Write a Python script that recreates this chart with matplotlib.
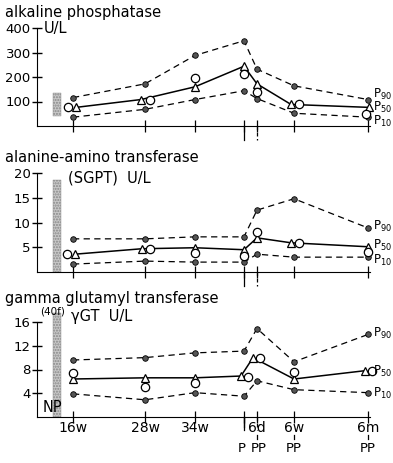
import numpy as np
import matplotlib.pyplot as plt
from matplotlib.patches import Rectangle

# time points (categorical, drawn at fixed pixel-like positions)
x_labels = ['16w', '28w', '34w', 'P', '6d', '6w', '6m']
x_pos = [73, 145, 195, 244, 257, 294, 368]

# alkaline phosphatase U/L
alp_p90 = [116, 172, 288, 348, 232, 164, 108]
alp_tri = [76, 108, 160, 244, 172, 88, 76]
alp_circ = [76, 108, 196, 212, 140, 88, 48]
alp_p10 = [36, 68, 108, 144, 112, 52, 36]

# alanine-amino transferase (SGPT) U/L
sgpt_p90 = [6.7, 6.7, 7.1, 7.1, 12.5, 14.8, 8.9]
sgpt_tri = [3.6, 4.7, 4.9, 4.5, 6.9, 5.9, 5.1]
sgpt_circ = [3.6, 4.7, 3.8, 3.2, 8.1, 5.9, 4.0]
sgpt_p10 = [1.6, 2.2, 2.0, 2.0, 3.6, 3.0, 3.0]

# gamma glutamyl transferase U/L
ggt_p90 = [9.6, 10.0, 10.8, 11.1, 14.9, 9.3, 13.9]
ggt_tri = [6.4, 6.6, 6.6, 6.9, 10.0, 6.4, 7.8]
ggt_circ = [7.4, 5.1, 5.7, 6.8, 10.0, 7.6, 7.8]
ggt_p10 = [3.9, 2.9, 4.1, 3.5, 6.1, 4.6, 4.1]

W, H = 393, 463
fig = plt.figure(figsize=(W / 100, H / 100), dpi=100)
plt.rcParams['font.family'] = 'DejaVu Sans'


def ax_px(bottom, top):
    # axes placed in pixel coords, x from the y-axis line to the right edge
    return fig.add_axes([37 / W, 1 - bottom / H, (W - 37) / W, (bottom - top) / H])


def ftext(x, y, s, **kw):
    fig.text(x / W, 1 - y / H, s, va='center', **kw)


dash = (0, (5, 3.5))


def panel(ax, p90, tri, circ, p10, ymax, yticks, stip, circ_dx, tri_dx, lab_y):
    xs = np.array(x_pos, dtype=float)
    ax.set_xlim(37, W)
    ax.set_ylim(0, ymax)
    ax.patch.set_alpha(0)
    for s in ['top', 'right']:
        ax.spines[s].set_visible(False)
    ax.spines['left'].set_bounds(0, ymax)
    ax.spines['bottom'].set_bounds(37, 370)
    ax.set_yticks(yticks)
    ax.tick_params(axis='y', direction='inout', length=7, width=1, labelsize=9.5, pad=1)
    ax.set_xticks(x_pos)
    ax.set_xticklabels([])
    ax.tick_params(axis='x', direction='inout', length=8, width=0.9)
    # stippled reference bar
    ax.add_patch(Rectangle((53, stip[0]), 8, stip[1] - stip[0], facecolor='#c8c8c8',
                           edgecolor='#888888', hatch='......', lw=0.3, clip_on=False))
    dot = dict(marker='o', ms=4, mfc='#555555', mec='black', mew=0.6, color='black', lw=0.9)
    ax.plot(xs, p90, linestyle=dash, clip_on=False, **dot)
    ax.plot(xs, p10, linestyle=dash, clip_on=False, **dot)
    xt = xs + np.array(tri_dx)
    xc = xs + np.array(circ_dx)
    ax.plot(xt, tri, '-', color='black', lw=1.1, clip_on=False)
    ax.plot(xt, tri, '^', ms=5.5, mfc='white', mec='black', mew=0.9, clip_on=False)
    ax.plot(xc, circ, 'o', ms=6, mfc='white', mec='black', mew=0.9, clip_on=False)
    # extra downward marks for delivery and postpartum points
    lo = -0.14 * ymax
    ax.plot([x_pos[3]] * 2, [0, lo], color='black', lw=0.9, clip_on=False)
    ax.plot([x_pos[4]] * 2, [0, lo], color='black', lw=0.9, ls=(0, (3, 2)), clip_on=False)
    for lab, v in zip(['P$_{90}$', 'P$_{50}$', 'P$_{10}$'], lab_y):
        ax.text(373, v, lab, fontsize=8.5, va='center', ha='left', clip_on=False)


ax1 = ax_px(126, 28)
panel(ax1, alp_p90, alp_tri, alp_circ, alp_p10, 400, [100, 200, 300, 400],
      (40, 136), [-5, 5, 0, 0, 0, 5, -2], [3, -4, 0, 0, 0, -3, 1], [130, 74, 18])
ftext(5, 13, 'alkaline phosphatase', fontsize=10.5)
ftext(44, 28, 'U/L', fontsize=10.5)

ax2 = ax_px(272, 173)
panel(ax2, sgpt_p90, sgpt_tri, sgpt_circ, sgpt_p10, 20, [5, 10, 15, 20],
      (0, 18.5), [-6, 5, 0, 0, 0, 5, 0], [2, -3, 0, 0, 0, -3, 0], [9.2, 5.3, 2.4])
ftext(5, 157, 'alanine-amino transferase', fontsize=10.5)
ftext(68, 178, '(SGPT)  U/L', fontsize=10.5)

ax3 = ax_px(417, 322)
panel(ax3, ggt_p90, ggt_tri, ggt_circ, ggt_p10, 16, [4, 8, 12, 16],
      (0, 17.5), [0, 0, 0, 4, 3, 0, 4], [0, 0, 0, -3, -4, 0, -3], [14.0, 7.6, 4.0])
ftext(5, 298, 'gamma glutamyl transferase', fontsize=10.5)
ftext(40, 312, '(40f)', fontsize=7.5)
ftext(71, 316, 'γGT  U/L', fontsize=10.5)
ftext(43, 408, 'NP', fontsize=10.5)

# time labels below the bottom panel
for x, lab in zip(x_pos, x_labels):
    if lab == 'P':
        ftext(x - 2, 449, 'P', fontsize=9.5, ha='center')
        ax3.plot([x, x], [0, -1.75], color='black', lw=0.9, clip_on=False)
    else:
        ftext(x, 428, lab, fontsize=10, ha='center')
    if lab in ['6d', '6w', '6m']:
        ftext(x + (2 if lab == '6d' else 0), 449, 'PP', fontsize=9.5, ha='center')
        ax3.plot([x, x], [-3.0, -3.7], color='black', lw=0.9, clip_on=False)

fig.savefig('out.png', dpi=100)
